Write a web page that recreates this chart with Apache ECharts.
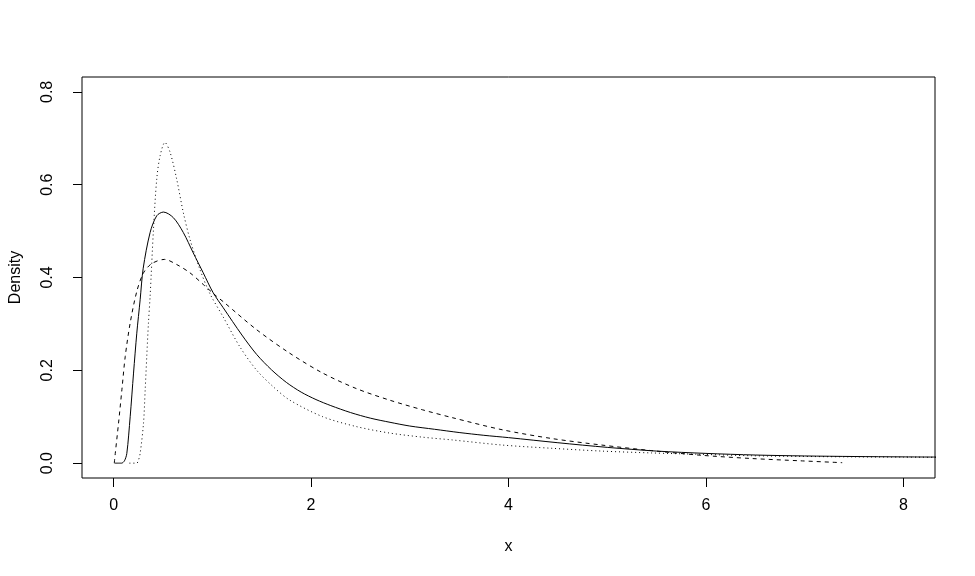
<!DOCTYPE html>
<html>
<head>
<meta charset="utf-8">
<script src="https://cdn.jsdelivr.net/npm/echarts@6/dist/echarts.min.js"></script>
<style>
html,body{margin:0;padding:0;background:#fff;}
#chart{width:975px;height:576px;}
</style>
</head>
<body>
<div id="chart"></div>
<script>
// Axis ticks
const xTicks = [0, 2, 4, 6, 8];
const yTicks = [0, 0.2, 0.4, 0.6, 0.8];

// Solid curve
const solidX = [0.01, 0.08, 0.11, 0.134, 0.168, 0.202, 0.235, 0.269, 0.30, 0.37, 0.437, 0.505, 0.605, 0.706, 0.807, 0.908, 1.009, 1.11, 1.3, 1.45, 1.6, 1.75, 1.9, 2.05, 2.2, 2.4, 2.6, 2.8, 3.0, 3.25, 3.5, 3.75, 4.0, 4.5, 5.0, 5.5, 6.0, 6.5, 7.0, 7.5, 8.0, 8.4];
const solidY = [0, 0, 0.005, 0.021, 0.10, 0.194, 0.28, 0.352, 0.42, 0.497, 0.533, 0.541, 0.529, 0.497, 0.453, 0.41, 0.367, 0.335, 0.276, 0.234, 0.201, 0.174, 0.153, 0.137, 0.124, 0.109, 0.097, 0.088, 0.080, 0.073, 0.066, 0.060, 0.055, 0.044, 0.034, 0.026, 0.021, 0.0175, 0.0155, 0.0143, 0.0135, 0.013];

// Dashed curve
const dashedX = [0.007, 0.017, 0.05, 0.084, 0.118, 0.168, 0.235, 0.303, 0.387, 0.515, 0.639, 0.774, 0.908, 1.04, 1.11, 1.446, 1.783, 2.119, 2.455, 2.792, 3.128, 3.431, 3.935, 4.44, 4.944, 5.449, 5.95, 6.46, 6.96, 7.38];
const dashedY = [0, 0.021, 0.086, 0.158, 0.23, 0.302, 0.37, 0.41, 0.43, 0.439, 0.428, 0.41, 0.385, 0.36, 0.348, 0.288, 0.237, 0.194, 0.161, 0.136, 0.115, 0.098, 0.072, 0.053, 0.039, 0.027, 0.017, 0.010, 0.005, 0.001];

// Dotted curve
const dottedX = [0.16, 0.235, 0.25, 0.269, 0.303, 0.32, 0.336, 0.353, 0.37, 0.404, 0.437, 0.471, 0.52, 0.572, 0.639, 0.706, 0.774, 0.875, 0.976, 1.11, 1.278, 1.446, 1.615, 1.783, 2.119, 2.455, 2.792, 3.128, 3.431, 3.935, 4.44, 4.944, 5.449, 5.95, 6.46, 6.96, 7.5, 8.0, 8.4];
const dottedY = [0, 0, 0.005, 0.021, 0.086, 0.158, 0.23, 0.302, 0.36, 0.504, 0.612, 0.662, 0.691, 0.67, 0.612, 0.54, 0.482, 0.417, 0.365, 0.315, 0.251, 0.201, 0.165, 0.136, 0.1, 0.079, 0.065, 0.056, 0.05, 0.039, 0.032, 0.026, 0.022, 0.019, 0.016, 0.0145, 0.0135, 0.013, 0.0125];

const zip = (xs, ys) => xs.map((x, i) => [x, ys[i]]);
const FONT = 'Liberation Sans, Arial, Helvetica, sans-serif';

const chart = echarts.init(document.getElementById('chart'), null, {renderer: 'canvas'});
const lineBase = {type: 'line', showSymbol: false, symbol: 'none', smooth: 0.3, animation: false, clip: true};
chart.setOption({
  animation: false,
  backgroundColor: '#ffffff',
  grid: {left: 79, right: 40, top: 77, bottom: 98, show: true, borderColor: '#000', borderWidth: 1, backgroundColor: 'transparent'},
  xAxis: {
    type: 'value', min: -0.32, max: 8.32,
    name: 'x', nameLocation: 'middle', nameGap: 61,
    nameTextStyle: {fontFamily: FONT, fontSize: 16, color: '#000'},
    axisLine: {show: false, onZero: false},
    splitLine: {show: false},
    axisTick: {show: true, inside: false, length: 9, customValues: xTicks, lineStyle: {color: '#000', width: 1}},
    axisLabel: {show: true, customValues: xTicks, margin: 20, fontFamily: FONT, fontSize: 16, color: '#000',
      formatter: v => String(v)}
  },
  yAxis: {
    type: 'value', min: -0.032, max: 0.832,
    name: 'Density', nameLocation: 'middle', nameGap: 58,
    nameTextStyle: {fontFamily: FONT, fontSize: 16, color: '#000'},
    axisLine: {show: false, onZero: false},
    splitLine: {show: false},
    axisTick: {show: true, inside: false, length: 9, customValues: yTicks, lineStyle: {color: '#000', width: 1}},
    axisLabel: {show: true, customValues: yTicks, rotate: 90, margin: 26, fontFamily: FONT, fontSize: 16, color: '#000',
      formatter: v => v.toFixed(1)}
  },
  series: [
    Object.assign({}, lineBase, {name: 'solid', data: zip(solidX, solidY), lineStyle: {color: '#000', width: 1, type: 'solid'}}),
    Object.assign({}, lineBase, {name: 'dashed', data: zip(dashedX, dashedY), lineStyle: {color: '#000', width: 1, type: [4, 4]}}),
    Object.assign({}, lineBase, {name: 'dotted', data: zip(dottedX, dottedY), lineStyle: {color: '#000', width: 1, type: [1, 3]}})
  ]
});
</script>
</body>
</html>
